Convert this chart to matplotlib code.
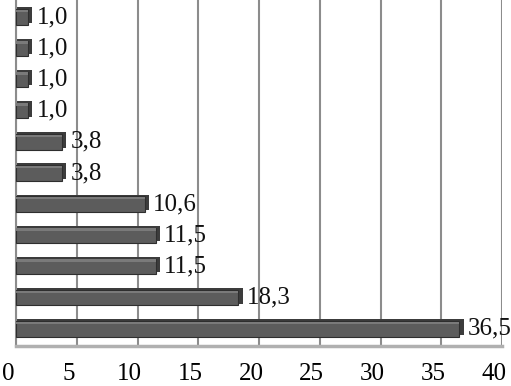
import matplotlib
matplotlib.use("Agg")
import matplotlib.pyplot as plt
from matplotlib.transforms import ScaledTranslation

values = [36.5, 18.3, 11.5, 11.5, 10.6, 3.8, 3.8, 1.0, 1.0, 1.0, 1.0]
labels = ["36,5", "18,3", "11,5", "11,5", "10,6", "3,8", "3,8", "1,0", "1,0", "1,0", "1,0"]
xticks = [0, 5, 10, 15, 20, 25, 30, 35, 40]

plt.rcParams['font.family'] = ['Liberation Serif', 'DejaVu Serif']

fig = plt.figure(figsize=(5.11, 3.86), dpi=100)
ax = fig.add_axes([16/511, 1 - 346/386, 486/511, 346/386])

pos = list(range(len(values)))
# depth (back) bars
ax.barh([p + 0.06 for p in pos], [v + 0.35 for v in values], height=0.5, left=0.0,
        color='#3c3c3c', edgecolor='none', zorder=2)
# front bars
ax.barh(pos, values, height=0.5, color='#5c5c5c', edgecolor='#2e2e2e', linewidth=0.8, zorder=3)
# top highlight
ax.barh([p + 0.19 for p in pos], values, height=0.08, color='#7a7a7a', edgecolor='none', zorder=4)

for p, v, t in zip(pos, values, labels):
    ax.text(v + 0.7, p, t, va='center', ha='left', fontsize=18, color='#111111', zorder=5)

ax.set_xlim(0, 40)
ax.set_ylim(-0.55, 10.55)
ax.set_xticks(xticks)
ax.set_xticklabels([str(x) for x in xticks], fontsize=18)
ax.set_yticks([])
ax.tick_params(axis='x', length=0, pad=12)
offset = ScaledTranslation(-8/100, 0, fig.dpi_scale_trans)
for lab in ax.get_xticklabels():
    lab.set_transform(lab.get_transform() + offset)
ax.xaxis.grid(True, color='#8c8c8c', linewidth=1.5, zorder=1)
ax.set_axisbelow(True)
for s in ['top', 'right']:
    ax.spines[s].set_visible(False)
ax.spines['left'].set_color('#8c8c8c')
ax.spines['left'].set_linewidth(1.5)
ax.spines['bottom'].set_color('#b0b0b0')
ax.spines['bottom'].set_linewidth(2.5)

fig.savefig('out.png', dpi=100)
